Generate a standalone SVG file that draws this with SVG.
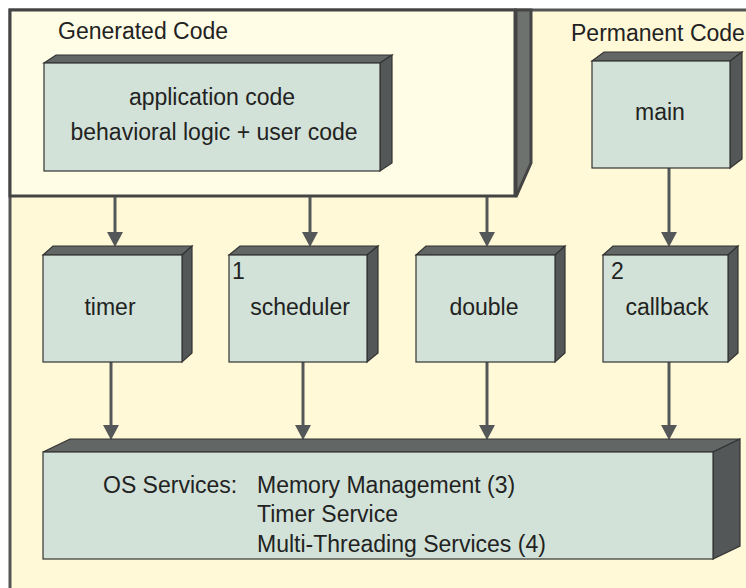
<svg xmlns="http://www.w3.org/2000/svg" width="746" height="588" viewBox="0 0 746 588">
<style>
.front{fill:#D2E2D8;stroke:#333;stroke-width:1.2}
.top{fill:#626664;stroke:#333;stroke-width:1.2}
.side{fill:#535757;stroke:#333;stroke-width:1.2}
.t{font-family:"Liberation Sans",Arial,sans-serif;font-size:23px;fill:#222}
.c{text-anchor:middle}
.ln{stroke:#555858;stroke-width:3;fill:none}
.ah{fill:#555858}
</style>
<rect x="0" y="0" width="746" height="588" fill="#ffffff"/>
<g id="permanent-frame">
<rect x="10" y="10" width="746" height="600" fill="#FFF9D8" stroke="#555" stroke-width="3"/>
<text class="t" x="571" y="41">Permanent Code</text>
</g>
<g id="generated-frame">
<rect x="10" y="10" width="505" height="186" fill="#FFFDE6" stroke="#444" stroke-width="3"/>
<polygon points="516,10 531,10 531,163 516,197" fill="#6E726E" stroke="#444" stroke-width="3"/>
<text class="t" x="58" y="39">Generated Code</text>
</g>
<g id="connectors">
<line class="ln" x1="115" y1="197" x2="115" y2="236"/>
<polygon class="ah" points="107,232 123,232 115,247"/>
<line class="ln" x1="310" y1="197" x2="310" y2="236"/>
<polygon class="ah" points="302,232 318,232 310,247"/>
<line class="ln" x1="487" y1="197" x2="487" y2="236"/>
<polygon class="ah" points="479,232 495,232 487,247"/>
<line class="ln" x1="669" y1="168" x2="669" y2="236"/>
<polygon class="ah" points="661,232 677,232 669,247"/>
<line class="ln" x1="111" y1="362" x2="111" y2="429"/>
<polygon class="ah" points="103,425 119,425 111,440"/>
<line class="ln" x1="303" y1="362" x2="303" y2="429"/>
<polygon class="ah" points="295,425 311,425 303,440"/>
<line class="ln" x1="487" y1="362" x2="487" y2="429"/>
<polygon class="ah" points="479,425 495,425 487,440"/>
<line class="ln" x1="669" y1="362" x2="669" y2="429"/>
<polygon class="ah" points="661,425 677,425 669,440"/>
</g>
<g id="application">
<polygon class="top" points="44,63 56,55 392,55 380,63"/>
<polygon class="side" points="380,63 392,55 392,163 380,171"/>
<rect class="front" x="44" y="63" width="336" height="108"/>
<text class="t c" x="212" y="105">application code</text>
<text class="t c" x="214" y="140">behavioral logic + user code</text>
</g>
<g id="main">
<polygon class="top" points="592,61 604,52 742,52 730,61"/>
<polygon class="side" points="730,61 742,52 742,159 730,168"/>
<rect class="front" x="592" y="61" width="138" height="107"/>
<text class="t c" x="660" y="120">main</text>
</g>
<g id="timer">
<polygon class="top" points="43,255 53,246 192,246 182,255"/>
<polygon class="side" points="182,255 192,246 192,353 182,362"/>
<rect class="front" x="43" y="255" width="139" height="107"/>
<text class="t c" x="110" y="315">timer</text>
</g>
<g id="scheduler">
<polygon class="top" points="229,255 240,246 378,246 367,255"/>
<polygon class="side" points="367,255 378,246 378,353 367,362"/>
<rect class="front" x="229" y="255" width="138" height="107"/>
<text class="t" x="232" y="279">1</text>
<text class="t c" x="300" y="315">scheduler</text>
</g>
<g id="double">
<polygon class="top" points="416,255 426,246 565,246 555,255"/>
<polygon class="side" points="555,255 565,246 565,353 555,362"/>
<rect class="front" x="416" y="255" width="139" height="107"/>
<text class="t c" x="484" y="315">double</text>
</g>
<g id="callback">
<polygon class="top" points="603,255 613,246 738,246 728,255"/>
<polygon class="side" points="728,255 738,246 738,353 728,362"/>
<rect class="front" x="603" y="255" width="125" height="107"/>
<text class="t" x="611" y="279">2</text>
<text class="t c" x="667" y="315">callback</text>
</g>
<g id="os-services">
<polygon class="top" points="43,452 70,439 740,439 713,452"/>
<polygon class="side" points="713,452 740,439 740,546 713,559"/>
<rect class="front" x="43" y="452" width="670" height="107"/>
<text class="t" x="103" y="493">OS Services:</text>
<text class="t" x="257" y="493">Memory Management (3)</text>
<text class="t" x="257" y="522">Timer Service</text>
<text class="t" x="257" y="552">Multi-Threading Services (4)</text>
</g>
</svg>
